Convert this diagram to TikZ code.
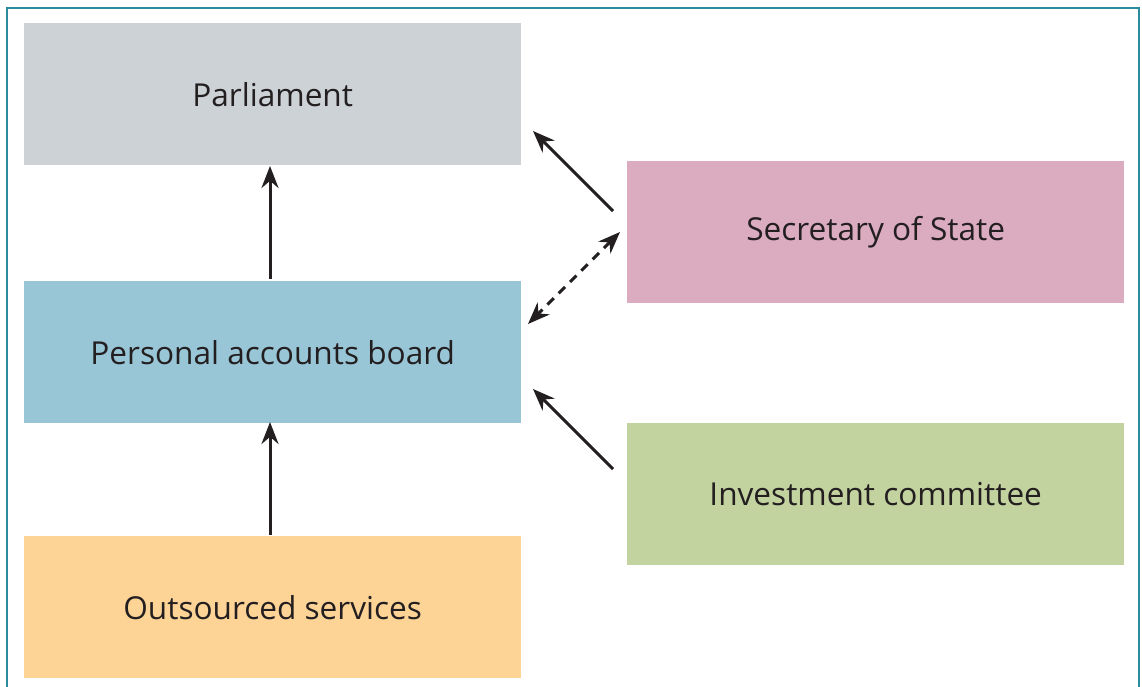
\documentclass[tikz,border=0pt]{standalone}
\usepackage{fontspec}
\setmainfont{Open Sans}
\usetikzlibrary{arrows.meta}
\definecolor{frame}{HTML}{2A8A9E}
\definecolor{parl}{HTML}{CDD2D6}
\definecolor{pab}{HTML}{99C6D7}
\definecolor{outs}{HTML}{FED496}
\definecolor{sos}{HTML}{DBABC0}
\definecolor{inv}{HTML}{C3D3A0}
\definecolor{txt}{HTML}{231F20}
\begin{document}
\begin{tikzpicture}[x=1pt,y=-1pt,
  box/.style={minimum width=497pt,minimum height=142pt,inner sep=0pt,anchor=north west,text=txt,font=\fontsize{31.6}{36}\selectfont},
  arr/.style={line width=3pt,draw=txt,-{Stealth[length=22pt,width=17pt]}},
  darr/.style={line width=3pt,draw=txt,dash pattern=on 9pt off 7pt,{Stealth[length=22pt,width=17pt]}-{Stealth[length=22pt,width=17pt]}}]
\useasboundingbox (0,0) rectangle (1142,687);
\draw[frame,line width=2pt] (7,687) -- (7,8) -- (1139,8) -- (1139,687);
\node[box,fill=parl] (parl) at (24,23) {Parliament};
\node[box,fill=pab] (pab) at (24,281) {Personal accounts board};
\node[box,fill=outs] (outs) at (24,536) {Outsourced services};
\node[box,fill=sos] (sos) at (627,161) {Secretary of State};
\node[box,fill=inv] (inv) at (627,423) {Investment committee};
\coordinate (a1s) at (270,279); \coordinate (a1e) at (270,166);
\coordinate (a2s) at (270,535); \coordinate (a2e) at (270,422);
\coordinate (a3s) at (613,211); \coordinate (a3e) at (533,131);
\coordinate (a4s) at (620,232); \coordinate (a4e) at (528,324);
\coordinate (a5s) at (613,469); \coordinate (a5e) at (533,389);
\draw[arr] (a1s) -- (a1e);
\draw[arr] (a2s) -- (a2e);
\draw[arr] (a3s) -- (a3e);
\draw[darr] (a4s) -- (a4e);
\draw[arr] (a5s) -- (a5e);
\end{tikzpicture}
\end{document}
